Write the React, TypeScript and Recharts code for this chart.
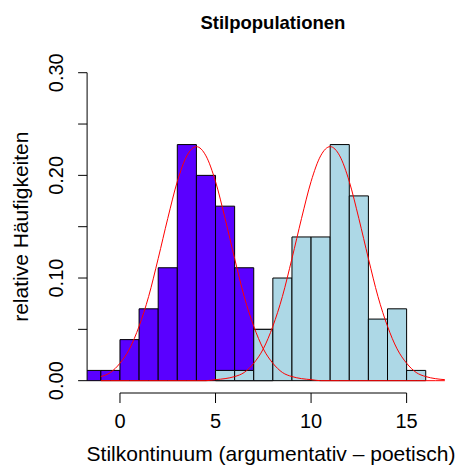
import React from 'react';
import {
  ComposedChart,
  Line,
  XAxis,
  YAxis,
  ReferenceArea,
  ReferenceLine
} from 'recharts';

// histogram bins (left edge, width 1) and relative frequencies
const PURPLE_START = [-2, -1, 0, 1, 2, 3, 4, 5, 6, 7];
const PURPLE_FREQ = [0.01, 0.01, 0.04, 0.07, 0.11, 0.23, 0.2, 0.17, 0.11, 0.05];
const BLUE_START = [5, 6, 7, 8, 9, 10, 11, 12, 13, 14, 15];
const BLUE_FREQ = [0.01, 0.01, 0.05, 0.1, 0.14, 0.14, 0.23, 0.18, 0.06, 0.07, 0.01];
const BIN_WIDTH = 1;

// red density curves
const CURVE_X = [
  -1, -0.5, 0, 0.5, 1, 1.5, 2, 2.5, 3, 3.5, 4, 4.5, 5, 5.5, 6, 6.5, 7, 7.5, 8,
  8.5, 9, 9.5, 10, 10.5, 11, 11.5, 12, 12.5, 13, 13.5, 14, 14.5, 15, 15.5, 16, 16.5, 17
];
const CURVE_A = [
  0.004, 0.008, 0.017, 0.031, 0.053, 0.082, 0.119, 0.158, 0.194, 0.219, 0.228, 0.219,
  0.194, 0.158, 0.119, 0.082, 0.053, 0.031, 0.017, 0.008, 0.004, 0.002, 0.001, 0,
  0, 0, 0, 0, 0, 0, 0, 0, 0, 0, 0, 0, 0
];
const CURVE_B = [
  0, 0, 0, 0, 0, 0, 0, 0, 0, 0, 0, 0, 0.001, 0.002, 0.004, 0.008, 0.017, 0.031,
  0.053, 0.082, 0.119, 0.158, 0.194, 0.219, 0.228, 0.219, 0.194, 0.158, 0.119, 0.082,
  0.053, 0.031, 0.017, 0.008, 0.004, 0.002, 0.001
];

const X_TICKS = [0, 5, 10, 15];
const Y_TICKS = [0, 0.05, 0.1, 0.15, 0.2, 0.25, 0.3];
const Y_LABELS = ['0.00', '0.10', '0.20', '0.30'];

const X_DOMAIN = [-1.72, 17.72];
const Y_DOMAIN = [-0.012, 0.312];

const FONT = '"Liberation Sans", Arial, Helvetica, sans-serif';

const curveData = CURVE_X.map((x, i) => ({ x, a: CURVE_A[i], b: CURVE_B[i] }));

const YTick = (props: any) => {
  const { x, y, payload } = props;
  const label = Number(payload.value).toFixed(2);
  if (!Y_LABELS.includes(label)) return <g />;
  const bx = x - 13;
  return (
    <text
      x={bx}
      y={y}
      transform={`rotate(-90, ${bx}, ${y})`}
      textAnchor="middle"
      fontSize={20}
      fontFamily={FONT}
      fill="#000"
    >
      {label}
    </text>
  );
};

export default function App() {
  return (
    <div style={{ position: 'absolute', left: 0, top: 0, width: 460, height: 470, background: '#fff' }}>
      <ComposedChart
        width={460}
        height={470}
        data={curveData}
        margin={{ top: 60.4, right: 1.4, bottom: 0, left: 0 }}
      >
        <XAxis
          type="number"
          dataKey="x"
          domain={X_DOMAIN}
          allowDataOverflow
          ticks={X_TICKS}
          interval={0}
          axisLine={false}
          tickLine={{ stroke: '#000' }}
          tickSize={10}
          tickMargin={11}
          height={77}
          tick={{ fontSize: 20, fill: '#000', fontFamily: FONT }}
        />
        <YAxis
          type="number"
          domain={Y_DOMAIN}
          allowDataOverflow
          ticks={Y_TICKS}
          interval={0}
          axisLine={false}
          tickLine={{ stroke: '#000' }}
          tickSize={9}
          width={87.1}
          tick={<YTick />}
        />
        {PURPLE_START.map((s, i) => (
          <ReferenceArea
            key={`p-${i}`}
            x1={s}
            x2={s + BIN_WIDTH}
            y1={0}
            y2={PURPLE_FREQ[i]}
            fill="#5a00ff"
            fillOpacity={1}
            stroke="#000"
            strokeWidth={1}
            ifOverflow="hidden"
          />
        ))}
        {BLUE_START.map((s, i) => (
          <ReferenceArea
            key={`b-${i}`}
            x1={s}
            x2={s + BIN_WIDTH}
            y1={0}
            y2={BLUE_FREQ[i]}
            fill="#add8e6"
            fillOpacity={1}
            stroke="#000"
            strokeWidth={1}
            ifOverflow="hidden"
          />
        ))}
        <ReferenceLine
          segment={[{ x: X_TICKS[0], y: Y_DOMAIN[0] }, { x: X_TICKS[X_TICKS.length - 1], y: Y_DOMAIN[0] }]}
          stroke="#000"
          ifOverflow="visible"
        />
        <ReferenceLine
          segment={[{ x: X_DOMAIN[0], y: Y_TICKS[0] }, { x: X_DOMAIN[0], y: Y_TICKS[Y_TICKS.length - 1] }]}
          stroke="#000"
          ifOverflow="visible"
        />
        <Line dataKey="a" type="monotone" stroke="#ff0000" strokeWidth={1} dot={false} isAnimationActive={false} />
        <Line dataKey="b" type="monotone" stroke="#ff0000" strokeWidth={1} dot={false} isAnimationActive={false} />
      </ComposedChart>
      <svg
        width={460}
        height={470}
        style={{ position: 'absolute', left: 0, top: 0, pointerEvents: 'none' }}
        fontFamily={FONT}
      >
        <text x={272.9} y={28.5} textAnchor="middle" fontSize={18.5} fontWeight="bold" fill="#000">
          Stilpopulationen
        </text>
        <text x={271} y={461} textAnchor="middle" fontSize={21} fill="#000">
          Stilkontinuum (argumentativ – poetisch)
        </text>
        <text
          x={28.5}
          y={226.7}
          transform="rotate(-90, 28.5, 226.7)"
          textAnchor="middle"
          fontSize={21}
          fill="#000"
        >
          relative Häufigkeiten
        </text>
      </svg>
    </div>
  );
}
